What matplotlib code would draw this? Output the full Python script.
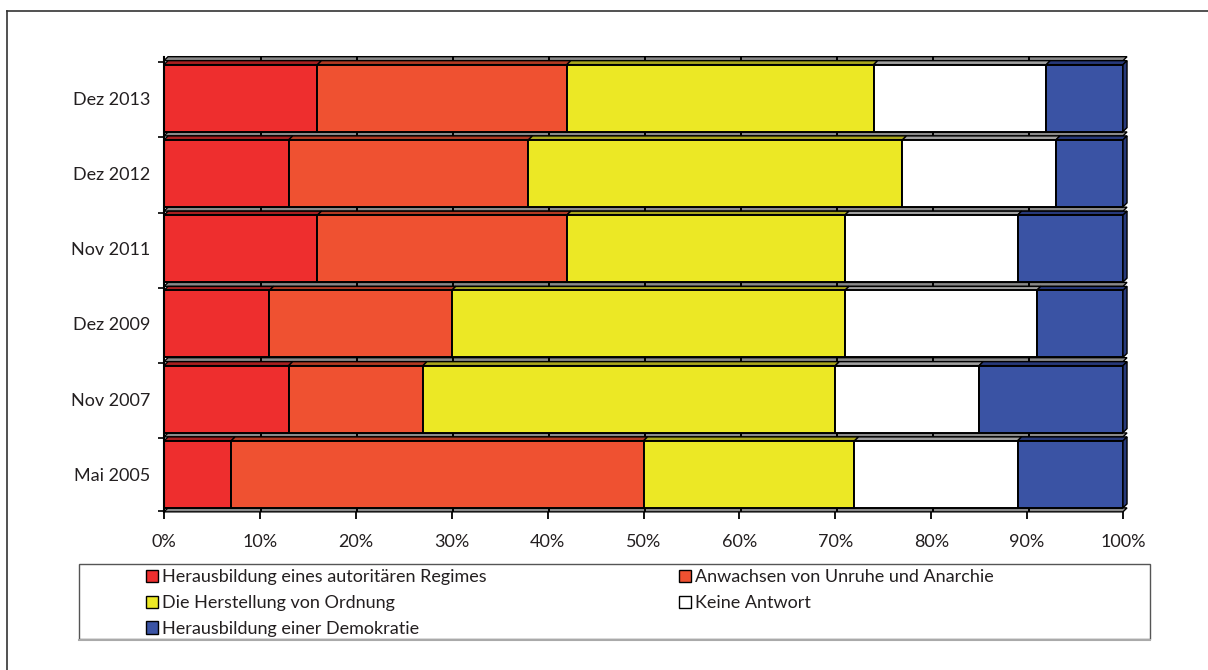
import numpy as np
import matplotlib
matplotlib.use('Agg')
import matplotlib.pyplot as plt
from matplotlib.patches import Polygon, Patch, Rectangle
from matplotlib.lines import Line2D

plt.rcParams['font.family'] = ['Lato', 'DejaVu Sans']
plt.rcParams['text.color'] = '#231f20'

# Umfragezeitpunkte (von unten nach oben) und Anteile in %
periods = ['Mai 2005', 'Nov 2007', 'Dez 2009', 'Nov 2011', 'Dez 2012', 'Dez 2013']
autoritaer = [7, 13, 11, 16, 13, 16]
unruhe = [43, 14, 19, 26, 25, 26]
ordnung = [22, 43, 41, 29, 39, 32]
keine_antwort = [17, 15, 20, 18, 16, 18]
demokratie = [11, 15, 9, 11, 7, 8]

labels = ['Herausbildung eines autoritären Regimes',
          'Anwachsen von Unruhe und Anarchie',
          'Die Herstellung von Ordnung',
          'Keine Antwort',
          'Herausbildung einer Demokratie']
colors = ['#ee2e2e', '#ef5131', '#ece825', '#ffffff', '#3a53a4']
top_colors = ['#a81f1f', '#b23a22', '#aaa61c', '#a0a0a0', '#27397a']

W, H = 1208, 670
fig = plt.figure(figsize=(W / 100, H / 100), dpi=100)
ax = fig.add_axes([164 / W, (H - 512) / H, 959 / W, 456 / H])
ax.set_xlim(0, 100)
ax.set_ylim(-0.5, 5.56)

h = 0.445   # halbe Balkenhöhe
d = 0.053   # Tiefe der 3D-Oberseite
dx = 0.42   # Versatz der 3D-Oberseite
g = 0.053   # graue Bodenleiste

y = np.arange(len(periods))

# graue Leisten zwischen den Balken
for yb in list(y + h + d) + [-0.498]:
    ax.add_patch(Polygon([(0, yb), (100, yb), (100 + dx, yb + g), (dx, yb + g)],
                         fc='#8a8a8a', ec='black', lw=1.0, zorder=1, clip_on=False))
    ax.vlines(np.arange(10, 100, 10) + 0.15, yb, yb + g, color='black', lw=1.4,
              zorder=1.5, clip_on=False)

left = np.zeros(len(periods))
for vals, col, tcol in zip([autoritaer, unruhe, ordnung, keine_antwort, demokratie],
                           colors, top_colors):
    vals = np.array(vals, dtype=float)
    ax.barh(y, vals, left=left, height=2 * h, color=col, edgecolor='black',
            linewidth=1.4, zorder=3)
    for yi, l, v in zip(y, left, vals):
        ax.add_patch(Polygon([(l, yi + h), (l + v, yi + h), (l + v + dx, yi + h + d),
                              (l + dx, yi + h + d)],
                             fc=tcol, ec='black', lw=1.0, zorder=2, clip_on=False))
    left += vals

# rechte Seitenflächen der letzten Segmente
for yi, r in zip(y, left):
    ax.add_patch(Polygon([(r, yi - h), (r + dx, yi - h + d), (r + dx, yi + h + d), (r, yi + h)],
                         fc=top_colors[-1], ec='black', lw=1.0, zorder=2, clip_on=False))

ax.plot([0, 0], [-0.5, 5.55], color='black', lw=1.5, zorder=4, clip_on=False)

for s in ax.spines.values():
    s.set_visible(False)

ax.set_xticks(np.arange(0, 101, 10), labels=[f'{v}%' for v in range(0, 101, 10)])
ax.tick_params(axis='x', length=5, width=1.3, pad=11, labelsize=13, color='black',
               labelcolor='#231f20')
ax.set_yticks(y, labels=periods)
ax.set_yticks(list(np.arange(0, 6) + 0.48) + [-0.49], minor=True)
ax.tick_params(axis='y', which='major', length=0, pad=10, labelsize=13, labelcolor='#231f20')
ax.tick_params(axis='y', which='minor', length=4, width=1.2, color='black')

# Legende in zwei Spalten
handles = [Patch(fc=c, ec='black', lw=1.0) for c in colors]
leg_kw = dict(loc='upper left', frameon=False, fontsize=13, handlelength=0.65,
              handleheight=0.65, handletextpad=0.25, labelspacing=0.55,
              borderaxespad=0, borderpad=0)
fig.legend([handles[0], handles[2], handles[4]], [labels[0], labels[2], labels[4]],
           bbox_to_anchor=(146 / W, 1 - 569 / H), **leg_kw)
fig.legend([handles[1], handles[3]], [labels[1], labels[3]],
           bbox_to_anchor=(679 / W, 1 - 569 / H), **leg_kw)
fig.add_artist(Rectangle((79 / W, 1 - 639 / H), (1150 - 79) / W, (639 - 564) / H,
                         transform=fig.transFigure, fill=False, ec='#555555', lw=1.0))
fig.add_artist(Line2D([79 / W, 1150 / W], [1 - 640 / H] * 2, transform=fig.transFigure,
                      color='#aaaaaa', lw=1.5))

# äußerer Rahmen
fig.add_artist(Line2D([7 / W, 1], [1 - 11 / H] * 2, transform=fig.transFigure,
                      color='#333333', lw=1.2))
fig.add_artist(Line2D([7 / W, 7 / W], [0, 1 - 11 / H], transform=fig.transFigure,
                      color='#333333', lw=1.2))

fig.savefig('out.png', dpi=100)
